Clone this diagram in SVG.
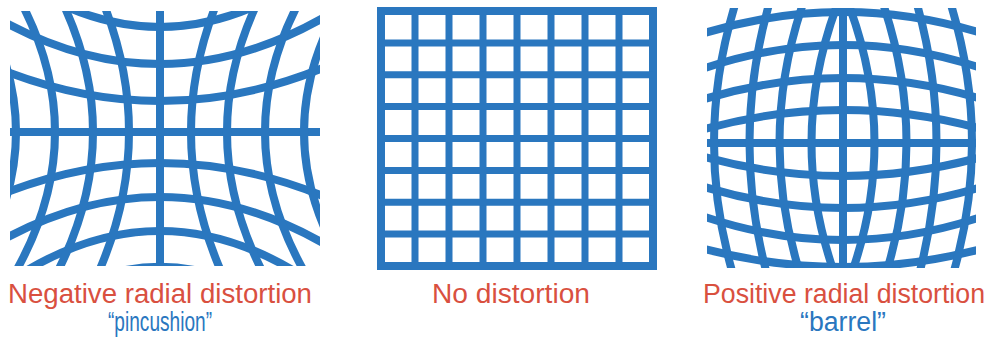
<svg xmlns="http://www.w3.org/2000/svg" width="989" height="338" viewBox="0 0 989 338">
<style>
.g{fill:none;stroke:#2a77bf;stroke-width:8}
.m{fill:none;stroke:#2a77bf;stroke-width:7}
.t{font-family:"Liberation Sans Narrow","Liberation Sans",Arial,sans-serif;font-size:27px;text-anchor:middle}
.red{fill:#d9503f}
.blue{fill:#2a77bf}
</style>
<defs>
<clipPath id="clipL"><rect x="10" y="11" width="310" height="255"/></clipPath>
<clipPath id="clipR"><rect x="707" y="8" width="269" height="260"/></clipPath>
</defs>
<rect width="989" height="338" fill="#ffffff"/>
<g id="pincushion" clip-path="url(#clipL)" class="g">
<path d="M-5 132H325"/>
<path d="M-5 67.1Q160 134.9 325 67.1"/>
<path d="M-5 16.8Q160 111.2 325 16.8"/>
<path d="M-5 -35.9Q160 89.9 325 -35.9"/>
<path d="M-5 196.9Q160 129.1 325 196.9"/>
<path d="M-5 244.2Q160 149.8 325 244.2"/>
<path d="M-5 291.5Q160 170.5 325 291.5"/>
<path d="M-5 339.6Q160 194.4 325 339.6"/>
<path d="M160 -8V272"/>
<path d="M221.3 -8Q160.7 132 221.3 272"/>
<path d="M98.7 -8Q159.3 132 98.7 272"/>
<path d="M262.6 -8Q191.4 132 262.6 272"/>
<path d="M57.4 -8Q128.6 132 57.4 272"/>
<path d="M304.5 -8Q225.5 132 304.5 272"/>
<path d="M15.5 -8Q94.5 132 15.5 272"/>
<path d="M347.5 -8Q260.5 132 347.5 272"/>
<path d="M-27.5 -8Q59.5 132 -27.5 272"/>
</g>
<g id="no-distortion" class="m">
<rect x="381" y="11" width="272" height="255" stroke-width="8"/>
<path d="M415 11V266M449 11V266M483 11V266M517 11V266M551 11V266M585 11V266M619 11V266"/>
<path d="M381 42.9H653M381 74.8H653M381 106.6H653M381 138.5H653M381 170.4H653M381 202.3H653M381 234.1H653"/>
</g>
<g id="barrel" clip-path="url(#clipR)" class="g">
<path d="M703 33.5Q843 -9.5 983 33.5"/>
<path d="M703 68.7Q843 21.3 983 68.7"/>
<path d="M703 99.5Q843 56.5 983 99.5"/>
<path d="M703 129.4Q843 90.6 983 129.4"/>
<path d="M703 143H983"/>
<path d="M703 156.6Q843 195.4 983 156.6"/>
<path d="M703 186.5Q843 229.5 983 186.5"/>
<path d="M703 216.3Q843 263.7 983 216.3"/>
<path d="M703 248.7Q843 285.3 983 248.7"/>
<path d="M843 -2V288"/>
<path d="M846.2 -2Q902.8 143 846.2 288"/>
<path d="M839.8 -2Q783.2 143 839.8 288"/>
<path d="M881.1 -2Q931.9 143 881.1 288"/>
<path d="M804.9 -2Q754.1 143 804.9 288"/>
<path d="M915.2 -2Q957.8 143 915.2 288"/>
<path d="M770.8 -2Q728.2 143 770.8 288"/>
<path d="M948.9 -2Q995.1 143 948.9 288"/>
<path d="M737.1 -2Q690.9 143 737.1 288"/>
</g>
<g id="labels" class="t">
<text class="red" x="160" y="303" textLength="304" lengthAdjust="spacingAndGlyphs">Negative radial distortion</text>
<text class="blue" x="160" y="331" textLength="104" lengthAdjust="spacingAndGlyphs">“pincushion”</text>
<text class="red" x="511" y="303" textLength="158" lengthAdjust="spacingAndGlyphs">No distortion</text>
<text class="red" x="844" y="303" textLength="282" lengthAdjust="spacingAndGlyphs">Positive radial distortion</text>
<text class="blue" x="843" y="331" textLength="86" lengthAdjust="spacingAndGlyphs">“barrel”</text>
</g>
</svg>
